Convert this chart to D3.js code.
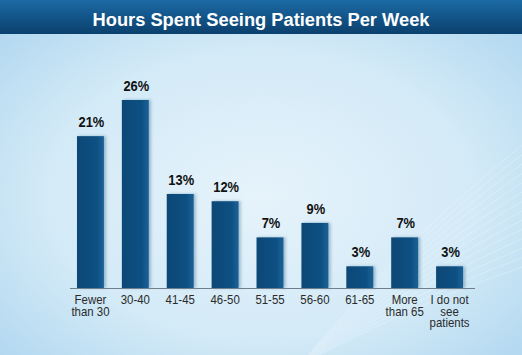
<!DOCTYPE html>
<html><head><meta charset="utf-8">
<script src="https://cdn.jsdelivr.net/npm/d3@7"></script>
<style>
html,body{margin:0;padding:0;overflow:hidden;background:#fff}
svg{display:block}
</style></head>
<body>
<svg id="chart" width="522" height="355"></svg>
<script>
const title = "Hours Spent Seeing Patients Per Week";
const categories = ["Fewer\nthan 30","30-40","41-45","46-50","51-55","56-60","61-65","More\nthan 65","I do not\nsee\npatients"];
const values = [21,26,13,12,7,9,3,7,3];

const W = 522, H = 355;
const svg = d3.select("#chart");
const defs = svg.append("defs");

// background
const bg = defs.append("radialGradient").attr("id","bg").attr("cx","0.5").attr("cy","0.55").attr("r","0.75");
bg.append("stop").attr("offset","0").attr("stop-color","#e6f3fb");
bg.append("stop").attr("offset","0.55").attr("stop-color","#d3eaf7");
bg.append("stop").attr("offset","1").attr("stop-color","#a9d3ee");
svg.append("rect").attr("width",W).attr("height",H).attr("fill","url(#bg)");

// faint curved lines in lower right
const swirl = svg.append("g").attr("opacity",0.25);
for (let i=0;i<14;i++){
  swirl.append("path")
    .attr("d",`M ${300} ${H+10} Q ${420} ${300-i*6} ${W+20} ${260-i*10}`)
    .attr("fill","none").attr("stroke","#ffffff").attr("stroke-width",1);
}

// title bar
const tb = defs.append("linearGradient").attr("id","tb").attr("x1",0).attr("y1",0).attr("x2",0).attr("y2",1);
tb.append("stop").attr("offset","0").attr("stop-color","#1c6aa5");
tb.append("stop").attr("offset","1").attr("stop-color","#0b406d");
svg.append("rect").attr("width",W).attr("height",34).attr("fill","url(#tb)");
svg.append("text").attr("x",W/2).attr("y",25.5).attr("text-anchor","middle")
  .attr("fill","#fff").attr("font-family","Liberation Sans, Arial, sans-serif")
  .attr("font-weight","bold").attr("font-size",18.3).text(title);

// bar gradient
const bgBar = defs.append("linearGradient").attr("id","bar").attr("x1",0).attr("y1",0).attr("x2",1).attr("y2",0);
bgBar.append("stop").attr("offset","0").attr("stop-color","#0c4776");
bgBar.append("stop").attr("offset","0.75").attr("stop-color","#0f5183");
bgBar.append("stop").attr("offset","1").attr("stop-color","#1a6298");
const sh = defs.append("filter").attr("id","sh").attr("x","-20%").attr("y","-20%").attr("width","160%").attr("height","140%");
sh.append("feDropShadow").attr("dx",2).attr("dy",0).attr("stdDeviation",1.5).attr("flood-color","#1b4a6e").attr("flood-opacity",0.35);

const x = d3.scaleBand().domain(d3.range(categories.length)).range([68,472]).paddingInner(0.4).paddingOuter(0.2);
const y = d3.scaleLinear().domain([0,26]).range([288,100]);

const font = "'Liberation Sans', Arial, sans-serif";

svg.append("g").selectAll("rect").data(values).join("rect")
  .attr("x",(d,i)=>x(i)).attr("y",d=>y(d)).attr("width",x.bandwidth()).attr("height",d=>y(0)-y(d))
  .attr("fill","url(#bar)").attr("filter","url(#sh)");

svg.append("g").selectAll("text").data(values).join("text")
  .attr("transform",(d,i)=>`translate(${x(i)+x.bandwidth()/2+1},${y(d)-9}) scale(0.92,1)`)
  .attr("text-anchor","middle").attr("font-family",font).attr("font-weight","bold")
  .attr("font-size",14).attr("fill","#111").text(d=>d+"%");

// axis
const axis = d3.axisBottom(x).tickSize(0).tickFormat("");
const ag = svg.append("g").attr("transform","translate(0,288)").call(axis);
ag.select(".domain").attr("stroke","#6d7f8c").attr("stroke-width",1).attr("d","M70,0.5H475");

const lab = svg.append("g").selectAll("text").data(categories).join("text")
  .attr("text-anchor","middle").attr("font-family",font).attr("font-size",13).attr("fill","#2a2a2a")
  .attr("transform",(d,i)=>`translate(${x(i)+x.bandwidth()/2},304) scale(0.88,1)`);
lab.each(function(d){
  const t = d3.select(this);
  d.split("\n").forEach((s,k)=>t.append("tspan").attr("x",0).attr("y",k*11.5).text(s));
});
</script>
</body></html>
